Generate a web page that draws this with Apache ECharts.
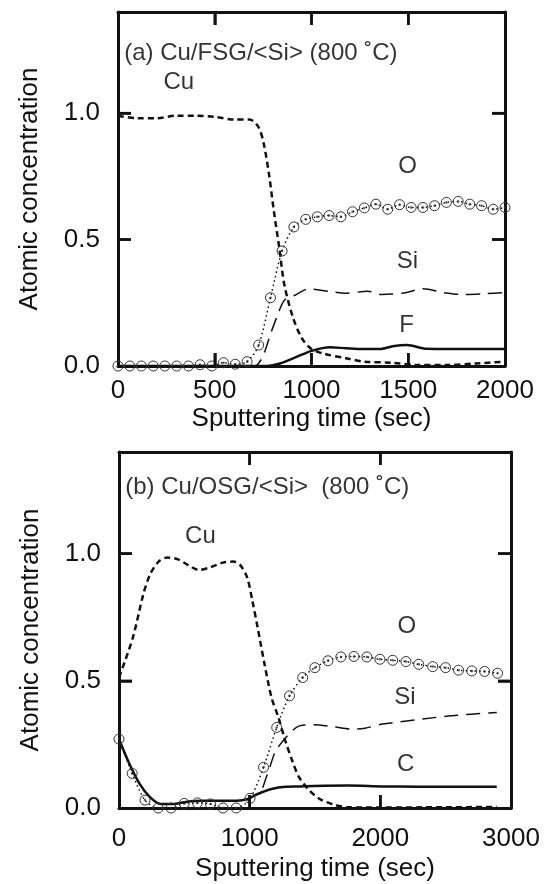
<!DOCTYPE html>
<html><head><meta charset="utf-8">
<script src="https://cdn.jsdelivr.net/npm/echarts@6/dist/echarts.min.js"></script>
<style>html,body{margin:0;padding:0;background:#fff}#c{width:546px;height:884px}</style>
</head><body><div id="c"></div>
<script>
// ---------- Panel (a): Cu/FSG/<Si> ----------
const aCu = [[0,0.99],[100,0.98],[200,0.98],[300,0.99],[400,0.99],[500,0.985],[600,0.975],[680,0.975],[726,0.945],[753,0.88],[780,0.76],[806,0.61],[833,0.47],[860,0.32],[905,0.19],[950,0.11],[995,0.07],[1057,0.05],[1183,0.03],[1272,0.017],[1416,0.013],[1550,0.004],[1702,0.004],[1850,0.01],[2000,0.017]];
const aOx = [0,61,121,182,242,303,364,424,485,545,606,667,727,788,848,909,970,1030,1091,1152,1212,1273,1333,1394,1455,1515,1576,1636,1697,1758,1818,1879,1939,2000];
const aOy = [0,0,0,0,0,0,0,0.005,0,0.013,0.007,0.017,0.083,0.27,0.455,0.55,0.58,0.59,0.595,0.59,0.61,0.625,0.64,0.62,0.638,0.627,0.627,0.634,0.647,0.651,0.64,0.634,0.62,0.627];
const aSi = [[0,0],[700,0],[720,0.005],[750,0.04],[790,0.13],[824,0.2],[860,0.26],[914,0.28],[986,0.305],[1093,0.295],[1183,0.288],[1290,0.296],[1362,0.283],[1487,0.29],[1577,0.306],[1685,0.29],[1774,0.283],[1900,0.286],[2000,0.29]];
const aF = [[0,0],[770,0],[837,0.01],[920,0.035],[1001,0.06],[1096,0.074],[1180,0.07],[1266,0.067],[1354,0.067],[1420,0.078],[1492,0.083],[1595,0.068],[1700,0.067],[2000,0.067]];
const aLabels = [
  {text:'(a) Cu/FSG/<Si> (800 \u02DAC)', x:32, y:1.236, align:'left'},
  {text:'Cu', x:314, y:1.123, align:'center'},
  {text:'O', x:1496, y:0.788, align:'center'},
  {text:'Si', x:1496, y:0.415, align:'center'},
  {text:'F', x:1491, y:0.16, align:'center'}
];
// ---------- Panel (b): Cu/OSG/<Si> ----------
const bCu = [[0,0.513],[106,0.67],[186,0.84],[239,0.92],[305,0.97],[371,0.985],[451,0.978],[530,0.955],[610,0.936],[690,0.945],[796,0.965],[875,0.969],[928,0.955],[981,0.906],[1021,0.814],[1061,0.71],[1114,0.565],[1167,0.435],[1220,0.356],[1273,0.264],[1326,0.186],[1379,0.12],[1459,0.068],[1538,0.035],[1645,0.013],[1751,0.003],[2000,0.002],[2500,0.003],[2891,0.004]];
const bOx = [0,101,199,300,398,499,600,700,796,897,1003,1106,1207,1305,1406,1499,1599,1698,1798,1897,1997,2095,2196,2294,2401,2499,2599,2700,2798,2897];
const bOy = [0.271,0.136,0.031,0,0,0.018,0.02,0.016,0,0,0.038,0.16,0.317,0.441,0.513,0.552,0.579,0.594,0.596,0.594,0.585,0.581,0.576,0.565,0.556,0.552,0.542,0.539,0.537,0.53];
const bSi = [[1100,0.08],[1154,0.16],[1200,0.225],[1300,0.29],[1380,0.323],[1485,0.327],[1645,0.319],[1777,0.31],[1883,0.314],[2016,0.33],[2281,0.347],[2546,0.363],[2891,0.376]];
const bC = [[0,0.27],[80,0.173],[159,0.094],[239,0.042],[318,0.016],[424,0.016],[530,0.026],[637,0.029],[743,0.029],[902,0.029],[981,0.035],[1061,0.055],[1167,0.075],[1273,0.084],[1379,0.085],[1751,0.088],[2016,0.085],[2281,0.084],[2891,0.084]];
const bLabels = [
  {text:'(b) Cu/OSG/<Si>  (800 \u02DAC)', x:48, y:1.259, align:'left'},
  {text:'Cu', x:623, y:1.069, align:'center'},
  {text:'O', x:2202, y:0.716, align:'center'},
  {text:'Si', x:2188, y:0.435, align:'center'},
  {text:'C', x:2194, y:0.173, align:'center'}
];
// ---------- Axis ticks ----------
const xTicksA = {min:0, max:2000, interval:500};
const xTicksB = {min:0, max:3000, interval:1000};
const yTicks = {min:0, max:1.4, interval:0.5};
const aXTickVals = [500, 1000, 1500];
const bXTickVals = [1000, 2000];
const yTickVals = [0.5, 1.0];

const FONT = '"Liberation Sans", Arial, sans-serif';
const INK = '#111';
const TICK_PX = 13;
const chart = echarts.init(document.getElementById('c'));

function zip(xs, ys){ return xs.map((x,i)=>[x, ys[i]]); }
function tick(){ return {show:true, inside:true, length:TICK_PX, lineStyle:{color:INK, width:2.5}}; }
function aline(){ return {show:true, onZero:false, lineStyle:{color:INK, width:3}}; }

function xMain(i, t, margin, gap){
  return {gridIndex:i, type:'value', min:t.min, max:t.max, interval:t.interval, position:'bottom',
    axisLine:aline(), axisTick:tick(), splitLine:{show:false},
    axisLabel:{show:true, margin:margin, fontFamily:FONT, fontSize:26, color:INK, formatter:v=>String(v)},
    name:'Sputtering time (sec)', nameLocation:'middle', nameGap:gap,
    nameTextStyle:{fontFamily:FONT, fontSize:26, color:INK}};
}
function yMain(i){
  return {gridIndex:i, type:'value', min:yTicks.min, max:yTicks.max, interval:yTicks.interval, position:'left',
    axisLine:aline(), axisTick:tick(), splitLine:{show:false},
    axisLabel:{show:true, margin:18, fontFamily:FONT, fontSize:26, color:INK,
      formatter:v=>(v > 1.2 ? '' : v.toFixed(1))},
    name:'Atomic concentration', nameLocation:'middle', nameGap:75, nameRotate:90,
    nameTextStyle:{fontFamily:FONT, fontSize:26, color:INK}};
}
function xFrame(i, t){
  return {gridIndex:i, type:'value', min:t.min, max:t.max, interval:t.interval, position:'top',
    axisLine:aline(), axisTick:tick(), axisLabel:{show:false}, splitLine:{show:false}};
}
function yFrame(i){
  return {gridIndex:i, type:'value', min:yTicks.min, max:yTicks.max, interval:yTicks.interval, position:'right',
    axisLine:aline(), axisTick:tick(), axisLabel:{show:false}, splitLine:{show:false}};
}
function lineS(ax, data, dash, width){
  return {type:'line', xAxisIndex:ax, yAxisIndex:ax, data:data, smooth:0.3, showSymbol:false, symbol:'none',
    clip:false, lineStyle:{color:INK, width:width, type:dash}, silent:true};
}
function oSeries(ax, xs, ys){
  const d = zip(xs, ys);
  return [
    {type:'line', xAxisIndex:ax, yAxisIndex:ax, data:d, smooth:0.3, symbol:'circle', symbolSize:10, showSymbol:true,
     clip:false, lineStyle:{color:INK, width:1.5, type:[1.5,3]},
     itemStyle:{color:'rgba(255,255,255,0)', borderColor:'#333', borderWidth:1}, silent:true},
    {type:'scatter', xAxisIndex:ax, yAxisIndex:ax, data:d, symbol:'circle', symbolSize:2.5, clip:false,
     itemStyle:{color:'#333'}, silent:true}
  ];
}
function labelS(ax, labels){
  return {type:'scatter', xAxisIndex:ax, yAxisIndex:ax, symbolSize:0, silent:true, clip:false,
    data: labels.map(l=>({value:[l.x, l.y], name:l.text,
      label:{show:true, position: l.align==='left' ? 'right' : 'inside', distance:0, formatter:'{b}',
        fontFamily:FONT, fontSize:24, color:'#000', textBorderWidth:0}}))};
}

chart.setOption({
  backgroundColor:'#fff',
  animation:false,
  grid:[
    {left:118, top:12, width:387, height:354},
    {left:119, top:452, width:392, height:356}
  ],
  xAxis:[xMain(0, xTicksA, 12, 40), xMain(1, xTicksB, 18, 48), xFrame(0, xTicksA), xFrame(1, xTicksB)],
  yAxis:[yMain(0), yMain(1), yFrame(0), yFrame(1)],
  series:[
    lineS(0, aCu, [6,4], 2.5),
    lineS(0, aSi, [14,8], 1.5),
    lineS(0, aF, 'solid', 2.5),
    ...oSeries(0, aOx, aOy),
    labelS(0, aLabels),
    lineS(1, bCu, [6,4], 2.5),
    lineS(1, bSi, [14,8], 1.5),
    lineS(1, bC, 'solid', 2.5),
    ...oSeries(1, bOx, bOy),
    labelS(1, bLabels)
  ]
});

// Inward frame ticks placed through the axes' own scales (convertToPixel) from the tick value arrays.
function frameTicks(ax, t, xVals, yVals){
  const finder = {xAxisIndex:ax, yAxisIndex:ax};
  const out = [];
  const seg = (x1,y1,x2,y2)=>out.push({type:'line', silent:true, z:100,
    shape:{x1:x1, y1:y1, x2:x2, y2:y2}, style:{stroke:INK, lineWidth:2.5}});
  xVals.forEach(v=>{
    const b = chart.convertToPixel(finder, [v, yTicks.min]);
    const tp = chart.convertToPixel(finder, [v, yTicks.max]);
    seg(b[0], b[1], b[0], b[1] - TICK_PX);
    seg(tp[0], tp[1], tp[0], tp[1] + TICK_PX);
  });
  yVals.forEach(v=>{
    const l = chart.convertToPixel(finder, [t.min, v]);
    const r = chart.convertToPixel(finder, [t.max, v]);
    seg(l[0], l[1], l[0] + TICK_PX, l[1]);
    seg(r[0], r[1], r[0] - TICK_PX, r[1]);
  });
  return out;
}
chart.setOption({graphic:{elements:[
  ...frameTicks(0, xTicksA, aXTickVals, yTickVals),
  ...frameTicks(1, xTicksB, bXTickVals, yTickVals)
]}});
</script></body></html>
